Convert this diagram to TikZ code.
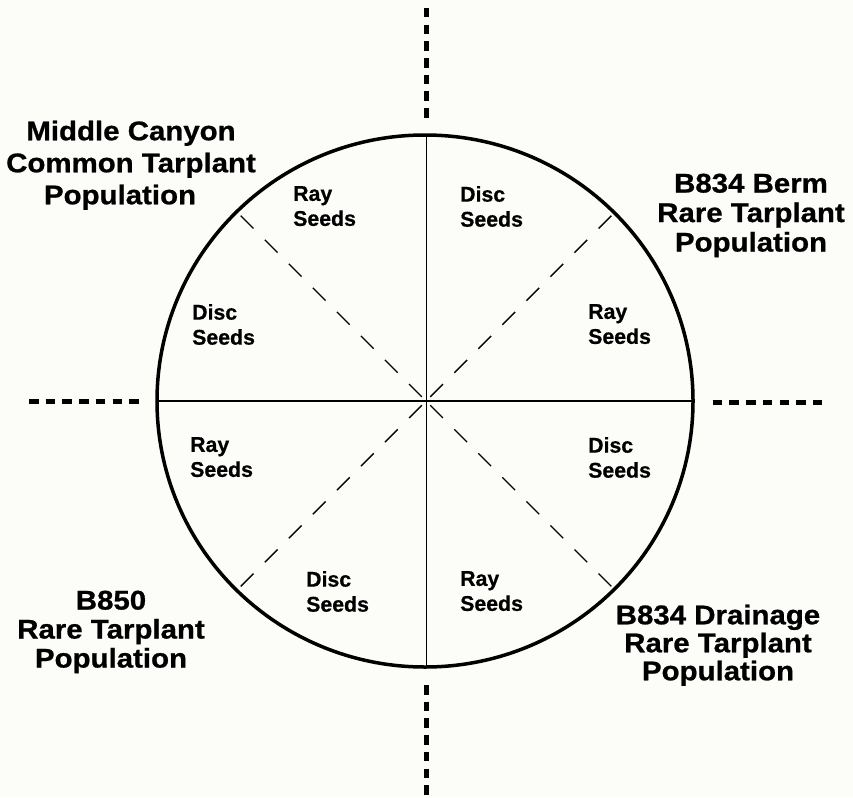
\documentclass[tikz,border=0pt]{standalone}
\usepackage{fontspec}
\setmainfont[FakeBold=0.6]{Liberation Sans}
\newfontfamily\bigfont[FakeStretch=1.09,FakeBold=0.8]{Liberation Sans}
\usetikzlibrary{calc}
\definecolor{paper}{RGB}{252,252,248}
\tikzset{
  biglabel/.style={font=\bigfont\bfseries\fontsize{27}{#1}\selectfont, align=center, anchor=north, inner sep=0pt},
  seedlabel/.style={font=\bfseries\fontsize{21.3}{25}\selectfont, align=left, anchor=north west, inner sep=0pt},
  rim/.style={line width=3.5pt},
  divider/.style={line width=1.8pt},
  diagline/.style={line width=1.4pt, dash pattern=on 18pt off 16pt},
  outerdash/.style={line width=4.5pt, dash pattern=on 9.5pt off 7.2pt}
}
\begin{document}
\begin{tikzpicture}[x=1pt,y=-1pt]
\fill[paper] (0,0) rectangle (853,797);
\useasboundingbox (0,0) rectangle (853,797);
\coordinate (c) at (426,401);
\coordinate (ctop) at (426.5,135);
\coordinate (cbot) at (426.5,667);
\coordinate (cleft) at (157,401);
\coordinate (cright) at (693,401);
% circle
\draw[rim] (425,401) ellipse [x radius=268, y radius=266];
% dividers
\draw[divider] (ctop) -- (cbot);
\draw[divider] (cleft) -- (cright);
% diagonals
\foreach \a in {45,135,225,315}{
  \draw[diagline] ($(c)+(\a:262)$) -- ($(c)+(\a:6)$);
}
% outer dashed lines
\coordinate (ta) at (426.5,8);   \coordinate (tb) at (426.5,117.7);
\coordinate (ba) at (426.5,685); \coordinate (bb) at (426.5,794.7);
\coordinate (la) at (29,401.5);  \coordinate (lb) at (138.7,401.5);
\coordinate (ra) at (712.7,402.5); \coordinate (rb) at (822.4,402.5);
\draw[outerdash] (ta) -- (tb);
\draw[outerdash] (ba) -- (bb);
\draw[outerdash] (la) -- (lb);
\draw[outerdash] (ra) -- (rb);
% population labels
\node[biglabel=32] (mc) at (131,120.5) {Middle Canyon\\Common Tarplant\\Population\hspace*{22pt}};
\node[biglabel=29.5] (berm) at (751,173.5) {B834 Berm\\Rare Tarplant\\Population};
\node[biglabel=28] (drain) at (718,604.5) {B834 Drainage\\Rare Tarplant\\Population};
\node[biglabel=29] (b850) at (111,590.5) {B850\\Rare Tarplant\\Population};
% seed labels
\node[seedlabel] (s1) at (293,186) {Ray\\Seeds};
\node[seedlabel] (s2) at (460,186) {Disc\\Seeds};
\node[seedlabel] (s3) at (192,304) {Disc\\Seeds};
\node[seedlabel] (s4) at (588,304) {Ray\\Seeds};
\node[seedlabel] (s5) at (190,437) {Ray\\Seeds};
\node[seedlabel] (s6) at (588,437) {Disc\\Seeds};
\node[seedlabel] (s7) at (306,571) {Disc\\Seeds};
\node[seedlabel] (s8) at (460,571) {Ray\\Seeds};
\end{tikzpicture}
\end{document}
